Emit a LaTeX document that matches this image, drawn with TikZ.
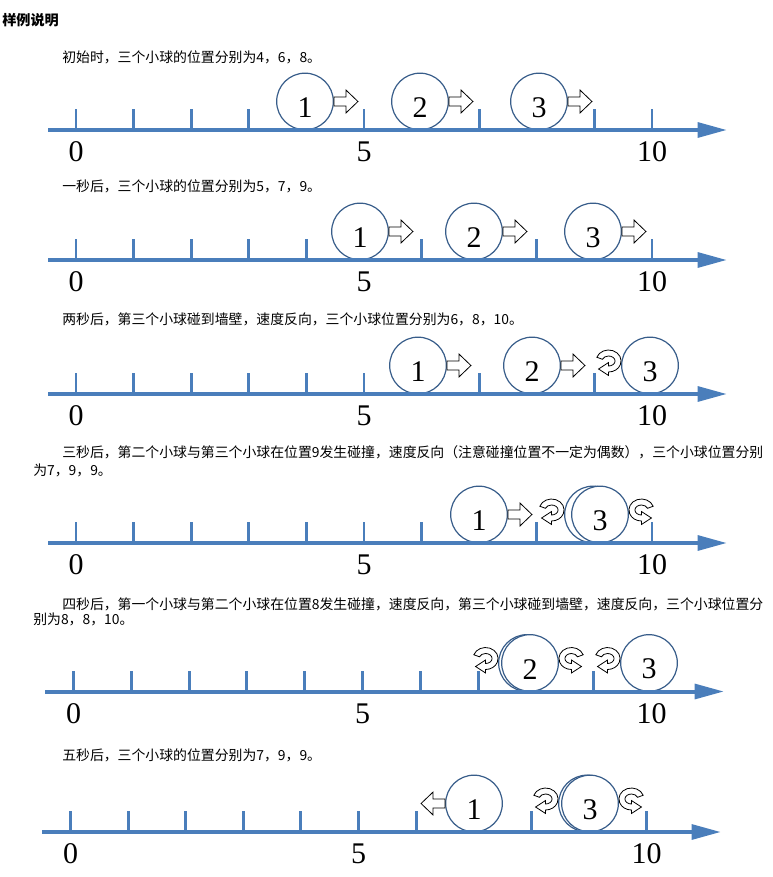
\documentclass[tikz,border=0pt]{standalone}
\usepackage{fontspec}
\setmainfont{Liberation Serif}
\newfontfamily\cjk{Noto Sans CJK SC}
\usetikzlibrary{arrows.meta}
\definecolor{axisblue}{HTML}{4A7EBB}
\definecolor{ballline}{HTML}{385D8A}

\begin{document}
\begin{tikzpicture}[x=0.75pt,y=0.75pt,
  ball/.style={circle,draw=ballline,line width=0.9pt,fill=white,
    minimum size=42.5pt,inner sep=0pt,text height=24pt,
    font=\fontsize{22.5}{22.5}\selectfont},
  axtick/.style={axisblue,line width=2.2pt},
  axline/.style={axisblue,line width=3pt,-{Triangle[length=22pt,width=11pt]}},
  numlabel/.style={inner sep=0pt,font=\fontsize{22.5}{22.5}\selectfont},
  remark/.style={anchor=west,inner sep=0pt,font=\cjk\fontsize{10.4}{13}\selectfont},
  outlined/.style={draw=black,fill=white,line width=0.6pt,line join=miter}]
  % Configurable parameters
  \def\balllift{28.5}                     % ball centre above the axis
  \newcommand{\ticksrow}[4]{%             % #1 name, #2 axis y, #3 x of 0, #4 step
    \foreach \i in {0,...,10}
      \draw[axtick] (#3+\i*#4,#2) -- ++(0,21);
    \node[numlabel] (#1zero) at (#3,#2-22)        {0};
    \node[numlabel] (#1five) at (#3+5*#4,#2-22)   {5};
    \node[numlabel] (#1ten)  at (#3+10*#4,#2-22)  {10};}
  \newcommand{\axisrow}[3]{\draw[axline] (#2,#1) -- (#3,#1);}
  \newcommand{\blockarrow}[2]{%           % #1 direction, #2 ball anchor
    \draw[outlined,shift={(#2)},xscale=#1] (0,4.5) -- (12,4.5) -- (12,11.5)
      -- (24,0) -- (12,-11.5) -- (12,-4.5) -- (0,-4.5) -- cycle;}
  \newcommand{\uturn}[2]{%                % #1 direction, #2 ball anchor
    \draw[outlined,shift={(#2)},xscale=#1] (-12.5,4.5) ++(160:12.5 and 11)
      arc[start angle=160,end angle=-90,x radius=12.5,y radius=11]
      -- ++(0,-3.5) -- ++(-10,6.5) -- ++(10,6.5) -- ++(0,-3.5)
      arc[start angle=-90,end angle=160,x radius=6.5,y radius=5] -- cycle;}
  %
  \path[use as bounding box,fill=white] (0,0) rectangle (772,-877);
  \node[remark,font=\cjk\bfseries\fontsize{10.6}{13}\selectfont] (title)
    at (2,-20) {样例说明};
  %
  % Row 1
  \node[remark] (t1) at (62,-57) {初始时，三个小球的位置分别为4，6，8。};
  \ticksrow{r1}{-130}{76}{57.6}
  \node[ball] (b11) at (305,-130+\balllift) {1};
  \node[ball] (b12) at (420,-130+\balllift) {2};
  \node[ball] (b13) at (539,-130+\balllift) {3};
  \axisrow{-130}{48}{727}
  \blockarrow{1}{b11.east}
  \blockarrow{1}{b12.east}
  \blockarrow{1}{b13.east}
  %
  % Row 2
  \node[remark] (t2) at (62,-186) {一秒后，三个小球的位置分别为5，7，9。};
  \ticksrow{r2}{-260}{76}{57.6}
  \node[ball] (b21) at (360,-260+\balllift) {1};
  \node[ball] (b22) at (474,-260+\balllift) {2};
  \node[ball] (b23) at (593,-260+\balllift) {3};
  \axisrow{-260}{48}{727}
  \blockarrow{1}{b21.east}
  \blockarrow{1}{b22.east}
  \blockarrow{1}{b23.east}
  %
  % Row 3
  \node[remark] (t3) at (62,-319)
    {两秒后，第三个小球碰到墙壁，速度反向，三个小球位置分别为6，8，10。};
  \ticksrow{r3}{-394}{76}{57.6}
  \node[ball] (b31) at (418,-394+\balllift) {1};
  \node[ball] (b32) at (532,-394+\balllift) {2};
  \node[ball] (b33) at (650,-394+\balllift) {3};
  \axisrow{-394}{48}{727}
  \blockarrow{1}{b31.east}
  \blockarrow{1}{b32.east}
  \uturn{1}{b33.west}
  %
  % Row 4
  \node[remark] (t4a) at (62,-452)
    {三秒后，第二个小球与第三个小球在位置9发生碰撞，速度反向（注意碰撞位置不一定为偶数），三个小球位置分别};
  \node[remark] (t4b) at (33,-470) {为7，9，9。};
  \ticksrow{r4}{-543}{76}{57.6}
  \node[ball] (b41) at (479,-543+\balllift) {1};
  \node[ball] (b42) at (593,-543+\balllift) {};
  \node[ball] (b43) at (600,-543+\balllift) {3};
  \axisrow{-543}{48}{727}
  \blockarrow{1}{b41.east}
  \uturn{1}{b42.west}
  \uturn{-1}{b43.east}
  %
  % Row 5
  \node[remark] (t5a) at (62,-604)
    {四秒后，第一个小球与第二个小球在位置8发生碰撞，速度反向，第三个小球碰到墙壁，速度反向，三个小球位置分};
  \node[remark] (t5b) at (33,-619) {别为8，8，10。};
  \ticksrow{r5}{-691.5}{73.5}{57.8}
  \node[ball] (b51) at (527,-691.5+\balllift) {};
  \node[ball] (b52) at (530,-691.5+\balllift) {2};
  \node[ball] (b53) at (649,-691.5+\balllift) {3};
  \axisrow{-691.5}{45}{724}
  \uturn{1}{b51.west}
  \uturn{-1}{b52.east}
  \uturn{1}{b53.west}
  %
  % Row 6
  \node[remark] (t6) at (62,-755) {五秒后，三个小球的位置分别为7，9，9。};
  \ticksrow{r6}{-832}{70.5}{57.6}
  \node[ball] (b61) at (474,-832+\balllift) {1};
  \node[ball] (b62) at (587,-832+\balllift) {};
  \node[ball] (b63) at (590,-832+\balllift) {3};
  \axisrow{-832}{42}{721}
  \blockarrow{-1}{b61.west}
  \uturn{1}{b62.west}
  \uturn{-1}{b63.east}
  %
\end{tikzpicture}
\end{document}
